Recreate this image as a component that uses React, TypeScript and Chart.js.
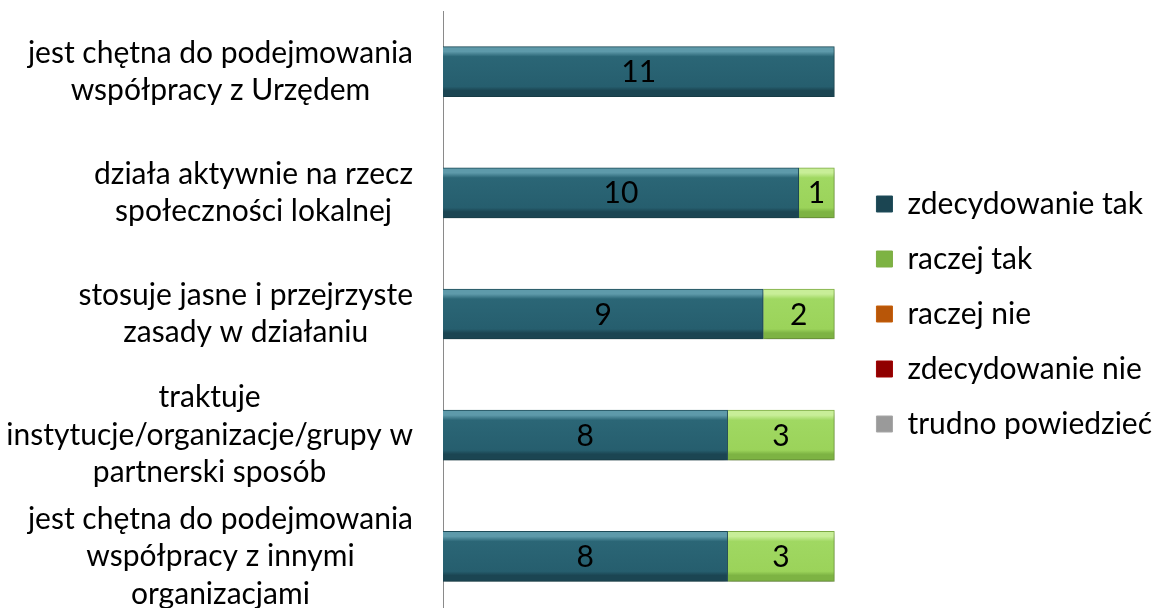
import React, { useEffect, useRef } from 'react';
import { Chart, registerables } from 'chart.js';

Chart.register(...registerables);

// ---- data ----
const categories: string[][] = [
  ['jest chętna do podejmowania', 'współpracy z Urzędem'],
  ['działa aktywnie na rzecz', 'społeczności lokalnej'],
  ['stosuje jasne i przejrzyste', 'zasady w działaniu'],
  ['traktuje', 'instytucje/organizacje/grupy w', 'partnerski sposób'],
  ['jest chętna do podejmowania', 'współpracy z innymi', 'organizacjami'],
];
const seriesNames: string[] = [
  'zdecydowanie tak',
  'raczej tak',
  'raczej nie',
  'zdecydowanie nie',
  'trudno powiedzieć',
];
const zdecydowanieTak: number[] = [11, 10, 9, 8, 8];
const raczejTak: number[] = [0, 1, 2, 3, 3];
const raczejNie: number[] = [0, 0, 0, 0, 0];
const zdecydowanieNie: number[] = [0, 0, 0, 0, 0];
const trudnoPowiedziec: number[] = [0, 0, 0, 0, 0];

// ---- styles ----
const FONT_FAMILY = 'Lato, "Noto Sans", sans-serif';
const FONT_SIZE = 30;
const LEGEND_FONT_SIZE = 30;
const LABEL_RIGHT = 413;
const LINE_H = 37.5;
const BAR_THICK = 50;

const palette = [
  { base: '#265E6E', top: '#5E9AAA', mid: '#2B6676', bottom: '#1B4552', border: '#1E4D5A', legend: '#2A6576' },
  { base: '#9BD35A', top: '#C8EE98', mid: '#A0D862', bottom: '#7DB343', border: '#7FAE45', legend: '#9BD35A' },
  { base: '#E46C0A', top: '#F5A45A', mid: '#E87216', bottom: '#B85608', border: '#C65E09', legend: '#E87418' },
  { base: '#C00000', top: '#E85A5A', mid: '#C80A0A', bottom: '#900000', border: '#A00000', legend: '#CC1010' },
  { base: '#BFBFBF', top: '#E6E6E6', mid: '#C4C4C4', bottom: '#9A9A9A', border: '#A6A6A6', legend: '#C8C8C8' },
];

const makeFill = (p: typeof palette[number]) => (ctx: any) => {
  const chart = ctx.chart;
  if (ctx.type !== 'data' || !chart.chartArea) return p.legend;
  const y = chart.scales.y.getPixelForValue(ctx.dataIndex);
  const g = chart.ctx.createLinearGradient(0, y - BAR_THICK / 2, 0, y + BAR_THICK / 2);
  g.addColorStop(0, p.top);
  g.addColorStop(0.1, p.top);
  g.addColorStop(0.2, p.mid);
  g.addColorStop(0.8, p.base);
  g.addColorStop(0.88, p.bottom);
  g.addColorStop(1, p.bottom);
  return g;
};

const yLabelPlugin = {
  id: 'yLabels',
  afterDraw(chart: any) {
    const ctx = chart.ctx;
    const ys = chart.scales.y;
    ctx.save();
    ctx.font = `${FONT_SIZE}px ${FONT_FAMILY}`;
    ctx.fillStyle = '#000000';
    ctx.textAlign = 'center';
    ctx.textBaseline = 'middle';
    (chart.data.labels as string[][]).forEach((lines, i) => {
      const yc = ys.getPixelForTick(i);
      const w = Math.max(...lines.map((l) => ctx.measureText(l).width));
      const cx = LABEL_RIGHT - w / 2;
      lines.forEach((l, j) => {
        ctx.fillText(l, cx, yc + (j - (lines.length - 1) / 2) * LINE_H);
      });
    });
    ctx.restore();
  },
};

const valueLabelPlugin = {
  id: 'valueLabels',
  afterDatasetsDraw(chart: any) {
    const ctx = chart.ctx;
    ctx.save();
    ctx.font = `${FONT_SIZE}px ${FONT_FAMILY}`;
    ctx.fillStyle = '#000000';
    ctx.textAlign = 'center';
    ctx.textBaseline = 'middle';
    chart.data.datasets.forEach((ds: any, di: number) => {
      const meta = chart.getDatasetMeta(di);
      meta.data.forEach((el: any, i: number) => {
        const v = ds.data[i];
        if (!v) return;
        const { x, base, y } = el.getProps(['x', 'base', 'y'], true);
        ctx.fillText(String(v), (x + base) / 2, y + 1);
      });
    });
    ctx.restore();
  },
};

const shadowPlugin = {
  id: 'barShadow',
  beforeDatasetsDraw(chart: any) {
    const ctx = chart.ctx;
    ctx.save();
    ctx.shadowColor = 'rgba(0,0,0,0.28)';
    ctx.shadowBlur = 5;
    ctx.shadowOffsetY = 3;
  },
  afterDatasetsDraw(chart: any) {
    chart.ctx.restore();
  },
};

export default function App() {
  const canvasRef = useRef<HTMLCanvasElement | null>(null);

  useEffect(() => {
    if (!canvasRef.current) return;
    const seriesValues = [zdecydowanieTak, raczejTak, raczejNie, zdecydowanieNie, trudnoPowiedziec];
    const chart = new Chart(canvasRef.current, {
      type: 'bar',
      data: {
        labels: categories as any,
        datasets: seriesNames.map((name, i) => ({
          label: name,
          data: seriesValues[i],
          backgroundColor: makeFill(palette[i]) as any,
          borderColor: palette[i].border,
          borderWidth: 1,
          barThickness: BAR_THICK,
        })),
      },
      options: {
        indexAxis: 'y',
        responsive: false,
        animation: false,
        devicePixelRatio: 1,
        layout: { padding: { top: 11, bottom: 3, left: 0, right: -8 } },
        scales: {
          x: {
            stacked: true,
            display: false,
            min: 0,
            max: 11.48,
          },
          y: {
            stacked: true,
            grid: { display: false, drawTicks: false },
            border: { display: true, color: '#8A8A8A', width: 1 },
            ticks: { display: false },
            afterFit(scale: any) {
              scale.width = 443;
            },
          },
        },
        plugins: {
          legend: {
            position: 'right',
            align: 'center',
            maxWidth: 420,
            labels: {
              boxWidth: 16,
              boxHeight: 16,
              padding: 25,
              color: '#000000',
              font: { family: FONT_FAMILY, size: LEGEND_FONT_SIZE },
            },
          },
          tooltip: { enabled: false },
        },
      },
      plugins: [shadowPlugin, valueLabelPlugin, yLabelPlugin],
    });
    return () => chart.destroy();
  }, []);

  return (
    <div
      style={{
        position: 'fixed',
        left: 0,
        top: 0,
        width: 1154,
        height: 608,
        overflow: 'hidden',
        background: '#ffffff',
      }}
    >
      <canvas ref={canvasRef} width={1154} height={620} style={{ display: 'block' }} />
    </div>
  );
}
